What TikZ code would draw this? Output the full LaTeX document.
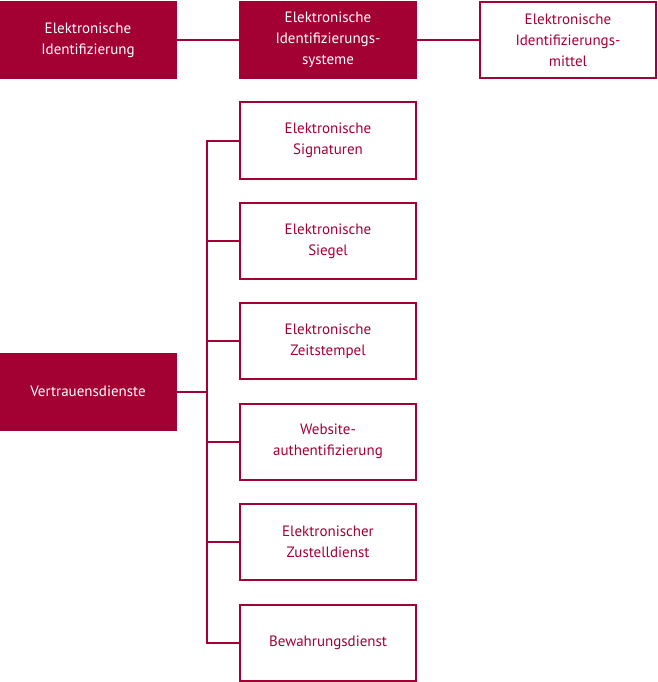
\documentclass[tikz,border=0pt]{standalone}
\usepackage{fontspec}
\setmainfont{PT Sans}
\usetikzlibrary{calc}
\definecolor{dred}{HTML}{A30034}

\begin{document}
\begin{tikzpicture}[x=1pt,y=1pt,
  box/.style={draw=dred,line width=2pt,minimum width=176pt,minimum height=76pt,inner sep=0pt,align=center,font=\fontsize{15}{21}\selectfont},
  filled/.style={box,fill=dred,text=white},
  open/.style={box,fill=white,text=dred},
  link/.style={draw=dred,line width=2pt}]
\useasboundingbox (0,0) rectangle (657,-682);

% Nodes
\node[filled] (eid) at (88,-40) {Elektronische\\Identifizierung};
\node[filled,right of = eid,node distance=240pt] (eids) {Elektronische\\Identifizierungs-\\systeme};
\node[open,right of = eids,node distance=240pt] (eidm) {Elektronische\\Identifizierungs-\\mittel};

\begin{scope}[node distance=100.4pt]
\node[open,below of = eids,yshift=-0.1pt] (sig) {Elektronische\\Signaturen};
\node[open,below of = sig] (siegel) {Elektronische\\Siegel};
\node[open,below of = siegel] (zeit) {Elektronische\\Zeitstempel};
\node[open,below of = zeit] (web) {Website-\\authentifizierung};
\node[open,below of = web] (zust) {Elektronischer\\Zustelldienst};
\node[open,below of = zust] (bew) {Bewahrungsdienst};
\end{scope}

\node[filled,left of = zeit,node distance=240pt,yshift=-50.2pt] (vd) {Vertrauensdienste};

%lines
\coordinate (bus) at ($(sig.west)+(-32pt,0)$);
\path[link] (eid) -- (eids);
\path[link] (eids) -- (eidm);
\path[link] (sig.west) -- (bus) |- (bew.west);
\foreach \n in {siegel,zeit,web,zust}
  \path[link] (\n.west) -- (\n.west -| bus);
\path[link] (vd.east) -- (vd.east -| bus);

\end{tikzpicture}
\end{document}
